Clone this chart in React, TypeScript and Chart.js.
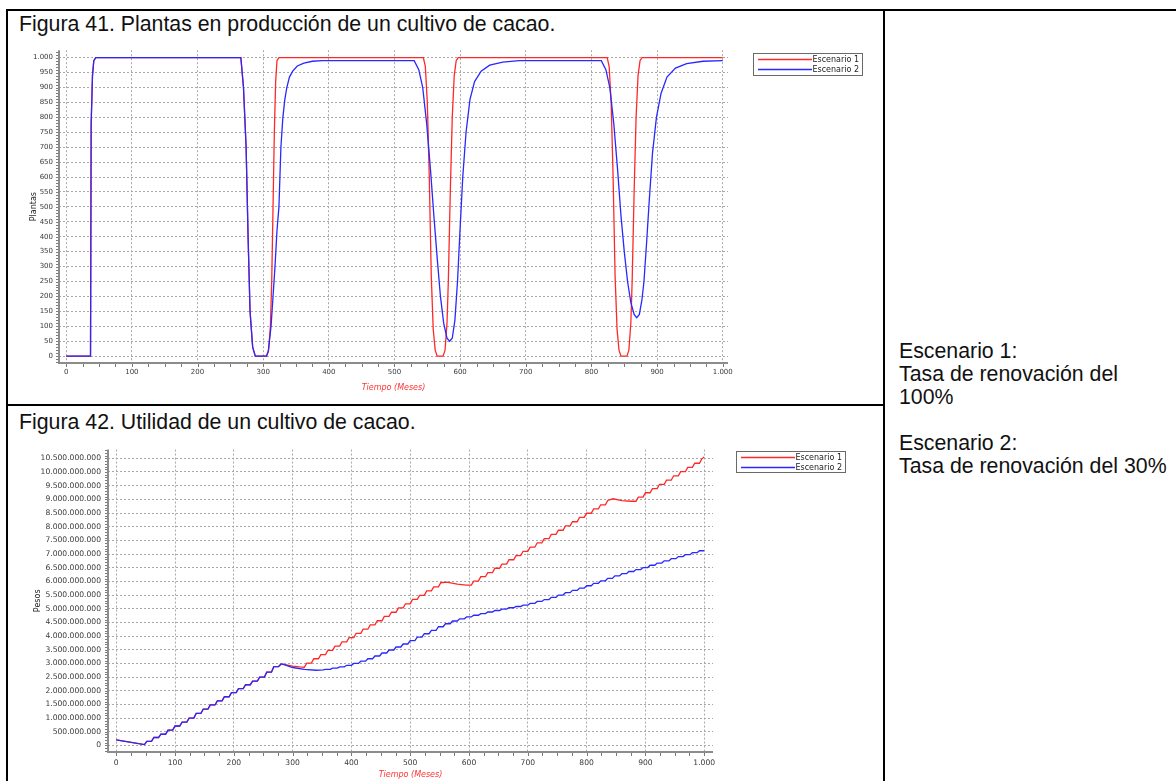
import React, { useEffect, useRef } from 'react';
import { Chart, registerables } from 'chart.js';

Chart.register(...registerables);

// ---------- Data ----------
const nombresSeries = ['Escenario 1', 'Escenario 2'];
const coloresSeries = ['rgb(255,40,40)', 'rgb(40,40,255)'];

// Figura 41: Plantas en producción
const tiempoPlantasE1 = [0, 37, 38, 40, 42, 45, 266, 270, 274, 277, 280, 284, 288, 305, 308, 311, 313, 315, 317, 319, 321, 324, 544, 547, 550, 553, 556, 559, 562, 565, 574, 577, 580, 582, 585, 588, 591, 594, 597, 824, 827, 830, 833, 836, 839, 842, 845, 854, 857, 860, 862, 865, 868, 871, 874, 877, 1000];
const plantasE1 = [0, 0, 780, 940, 990, 1000, 1000, 900, 700, 400, 150, 30, 0, 0, 15, 100, 250, 500, 750, 920, 990, 1000, 1000, 970, 850, 600, 270, 90, 20, 0, 0, 20, 110, 250, 550, 800, 940, 990, 1000, 1000, 970, 850, 600, 270, 90, 20, 0, 0, 20, 110, 250, 550, 800, 940, 990, 1000, 1000];

const tiempoPlantasE2 = [0, 37, 38, 40, 42, 45, 266, 270, 274, 277, 280, 284, 288, 305, 308, 312, 315, 318, 321, 324, 327, 330, 333, 336, 340, 345, 352, 362, 375, 390, 530, 537, 543, 549, 555, 560, 565, 570, 575, 580, 584, 588, 592, 596, 600, 604, 609, 615, 622, 632, 645, 665, 690, 815, 822, 828, 834, 840, 845, 850, 855, 860, 865, 869, 873, 877, 880, 884, 888, 893, 899, 906, 915, 928, 945, 970, 1000];
const plantasE2 = [0, 0, 780, 940, 990, 1000, 1000, 900, 700, 400, 150, 30, 0, 0, 20, 100, 200, 300, 420, 500, 700, 800, 860, 900, 935, 955, 972, 982, 988, 990, 990, 960, 900, 780, 620, 470, 330, 200, 110, 60, 50, 60, 120, 250, 430, 600, 750, 860, 920, 955, 975, 985, 990, 990, 960, 900, 780, 620, 470, 350, 250, 180, 140, 129, 140, 190, 250, 380, 520, 680, 800, 880, 935, 965, 980, 988, 990];

// Figura 42: Utilidad, [mes, millones de pesos]
const utilidadComun: [number, number][] = [
  [0, 200], [48, 30], [52, 150], [60, 150], [64, 290], [72, 290], [76, 410], [84, 410], [88, 560], [96, 560],
  [100, 710], [108, 710], [112, 850], [120, 850], [124, 1000], [132, 1000], [136, 1170], [144, 1170], [148, 1330], [156, 1330],
  [160, 1480], [168, 1480], [172, 1630], [180, 1630], [184, 1780], [192, 1780], [196, 1930], [204, 1930], [208, 2080], [216, 2080],
  [220, 2220], [228, 2220], [232, 2350], [240, 2350], [244, 2500], [252, 2500], [256, 2680], [264, 2680], [268, 2880], [276, 2880],
  [280, 2970], [283, 2970],
];
const utilidadE1: [number, number][] = [
  [300, 2900], [312, 2870], [320, 2860], [324, 3010], [332, 3010], [336, 3170], [344, 3170], [348, 3320], [356, 3320], [360, 3480],
  [368, 3480], [372, 3630], [380, 3630], [384, 3790], [392, 3790], [396, 3940], [404, 3940], [408, 4100], [416, 4100], [420, 4250],
  [428, 4250], [432, 4410], [440, 4410], [444, 4560], [452, 4560], [456, 4720], [464, 4720], [468, 4870], [476, 4870], [480, 5030],
  [488, 5030], [492, 5180], [500, 5180], [504, 5340], [512, 5340], [516, 5490], [524, 5490], [528, 5650], [536, 5650], [540, 5800],
  [548, 5800], [552, 5950], [562, 5975], [580, 5900], [595, 5860], [604, 5860], [608, 6010], [616, 6010], [620, 6170], [628, 6170],
  [632, 6320], [640, 6320], [644, 6480], [652, 6480], [656, 6630], [664, 6630], [668, 6790], [676, 6790], [680, 6940], [688, 6940],
  [692, 7100], [700, 7100], [704, 7250], [712, 7250], [716, 7410], [724, 7410], [728, 7560], [736, 7560], [740, 7720], [748, 7720],
  [752, 7870], [760, 7870], [764, 8030], [772, 8030], [776, 8180], [784, 8180], [788, 8340], [796, 8340], [800, 8490], [808, 8490],
  [812, 8650], [820, 8650], [824, 8800], [832, 8800], [836, 8960], [845, 9020], [860, 8950], [875, 8930], [884, 8930], [888, 9080],
  [896, 9080], [900, 9240], [908, 9240], [912, 9390], [920, 9390], [924, 9550], [932, 9550], [936, 9700], [944, 9700], [948, 9860],
  [956, 9860], [960, 10010], [968, 10010], [972, 10170], [980, 10170], [984, 10320], [992, 10320], [996, 10480], [1000, 10550],
];
const utilidadE2: [number, number][] = [
  [300, 2850], [320, 2780], [340, 2750], [352, 2760], [356, 2780], [364, 2780], [368, 2825], [376, 2825], [380, 2875], [388, 2875],
  [392, 2930], [400, 2930], [404, 3000], [412, 3000], [416, 3080], [424, 3080], [428, 3170], [436, 3170], [440, 3270], [448, 3270],
  [452, 3380], [460, 3380], [464, 3490], [472, 3490], [476, 3600], [484, 3600], [488, 3710], [496, 3710], [500, 3835], [508, 3835],
  [512, 3960], [520, 3960], [524, 4085], [532, 4085], [536, 4210], [544, 4210], [548, 4340], [556, 4340], [560, 4450], [568, 4450],
  [572, 4550], [580, 4550], [584, 4630], [592, 4630], [596, 4700], [604, 4700], [608, 4760], [616, 4760], [620, 4820], [628, 4820],
  [632, 4880], [640, 4880], [644, 4935], [652, 4935], [656, 4985], [664, 4985], [668, 5035], [676, 5035], [680, 5080], [688, 5080],
  [692, 5130], [700, 5130], [704, 5195], [712, 5195], [716, 5265], [724, 5265], [728, 5335], [736, 5335], [740, 5415], [748, 5415],
  [752, 5500], [760, 5500], [764, 5585], [772, 5585], [776, 5670], [784, 5670], [788, 5750], [796, 5750], [800, 5840], [808, 5840],
  [812, 5930], [820, 5930], [824, 6020], [832, 6020], [836, 6110], [844, 6110], [848, 6200], [856, 6200], [860, 6280], [868, 6280],
  [872, 6360], [880, 6360], [884, 6430], [892, 6430], [896, 6505], [904, 6505], [908, 6590], [916, 6590], [920, 6670], [928, 6670],
  [932, 6750], [940, 6750], [944, 6830], [952, 6830], [956, 6905], [964, 6905], [968, 6975], [976, 6975], [980, 7050], [988, 7050],
  [992, 7120], [1000, 7120],
];

// Ticks
const ticksTiempo = [0, 100, 200, 300, 400, 500, 600, 700, 800, 900, 1000];
const ticksPlantas = [0, 50, 100, 150, 200, 250, 300, 350, 400, 450, 500, 550, 600, 650, 700, 750, 800, 850, 900, 950, 1000];
const ticksPesosMM = [0, 500, 1000, 1500, 2000, 2500, 3000, 3500, 4000, 4500, 5000, 5500, 6000, 6500, 7000, 7500, 8000, 8500, 9000, 9500, 10000, 10500];

// ---------- Helpers ----------
const fmt = (v: number) => Math.round(v).toString().replace(/\B(?=(\d{3})+(?!\d))/g, '.');
const pts = (xs: number[], ys: number[]) => xs.map((x, i) => ({ x, y: ys[i] }));
const pairPts = (p: [number, number][], k: number) => p.map(([x, y]) => ({ x, y: y * k }));

function decor(minorX: number, minorY: number, leg: { x: number; y: number; w: number; h: number }) {
  return {
    id: 'decor',
    afterDatasetsDraw(chart: any) {
      const { ctx, chartArea } = chart;
      const { left, right, top, bottom } = chartArea;
      const xs = chart.scales.x;
      const ys = chart.scales.y;
      ctx.save();
      ctx.strokeStyle = '#7a7a7a';
      ctx.lineWidth = 1;
      for (let v = Math.ceil(xs.min / minorX) * minorX; v <= xs.max; v += minorX) {
        const p = Math.round(xs.getPixelForValue(v)) + 0.5;
        ctx.beginPath();
        ctx.moveTo(p, bottom);
        ctx.lineTo(p, bottom + 4);
        ctx.stroke();
      }
      for (let v = Math.ceil(ys.min / minorY) * minorY; v <= ys.max; v += minorY) {
        const p = Math.round(ys.getPixelForValue(v)) + 0.5;
        ctx.beginPath();
        ctx.moveTo(left - 3, p);
        ctx.lineTo(left, p);
        ctx.stroke();
      }
      ctx.strokeStyle = '#8c8c8c';
      ctx.lineWidth = 2;
      ctx.beginPath();
      ctx.moveTo(left, top);
      ctx.lineTo(left, bottom);
      ctx.lineTo(right, bottom);
      ctx.stroke();
      // legend
      ctx.fillStyle = '#ffffff';
      ctx.fillRect(leg.x, leg.y, leg.w, leg.h);
      ctx.strokeStyle = '#6a6a6a';
      ctx.lineWidth = 1;
      ctx.strokeRect(leg.x + 0.5, leg.y + 0.5, leg.w, leg.h);
      ctx.font = '8px "DejaVu Sans"';
      ctx.textAlign = 'right';
      ctx.textBaseline = 'middle';
      nombresSeries.forEach((n, i) => {
        const yy = leg.y + 6.5 + i * 10;
        ctx.strokeStyle = coloresSeries[i];
        ctx.lineWidth = 1.5;
        ctx.beginPath();
        ctx.moveTo(leg.x + 5, yy);
        ctx.lineTo(leg.x + 59, yy);
        ctx.stroke();
        ctx.fillStyle = '#222';
        ctx.fillText(n, leg.x + leg.w - 3, yy + 0.5);
      });
      ctx.restore();
    },
  };
}

type Cfg = {
  datasets: any[];
  xMin: number; xMax: number; yMin: number; yMax: number;
  yTicks: number[];
  yTitle: string;
  yWidth: number; yTitlePad: number; yTickPad: number;
  xHeight: number; xTitlePad: number; xTickPad: number;
  padTop: number; padRight: number;
  minorX: number; minorY: number;
  tickSize: number;
  legend: { x: number; y: number; w: number; h: number };
};

function build(canvas: HTMLCanvasElement, c: Cfg) {
  const tickFont = { family: 'DejaVu Sans', size: c.tickSize };
  return new Chart(canvas, {
    type: 'line',
    data: { datasets: c.datasets },
    plugins: [decor(c.minorX, c.minorY, c.legend)],
    options: {
      animation: false,
      responsive: false,
      layout: { padding: { left: 0, right: c.padRight, top: c.padTop, bottom: 0 } },
      plugins: { legend: { display: false }, tooltip: { enabled: false } },
      elements: { point: { radius: 0 }, line: { borderWidth: 1.3, tension: 0 } },
      scales: {
        x: {
          type: 'linear',
          min: c.xMin,
          max: c.xMax,
          afterBuildTicks: (s: any) => { s.ticks = ticksTiempo.map((v) => ({ value: v })); },
          afterFit: (s: any) => { s.height = c.xHeight; },
          grid: { color: '#a8a8a8', drawTicks: false, lineWidth: 1 },
          border: { display: false, dash: [2, 2] },
          ticks: { padding: c.xTickPad, font: tickFont, color: '#3a3a3a', maxRotation: 0, autoSkip: false, callback: (v: any) => fmt(Number(v)) },
          title: { display: true, text: 'Tiempo (Meses)', color: 'rgb(255,50,50)', font: { family: 'DejaVu Sans', size: 8, style: 'italic' }, padding: { top: 0, bottom: c.xTitlePad } },
        },
        y: {
          type: 'linear',
          min: c.yMin,
          max: c.yMax,
          afterBuildTicks: (s: any) => { s.ticks = c.yTicks.map((v) => ({ value: v })); },
          afterFit: (s: any) => { s.width = c.yWidth; },
          grid: { color: '#a8a8a8', drawTicks: false, lineWidth: 1 },
          border: { display: false, dash: [2, 2] },
          ticks: { padding: c.yTickPad, font: tickFont, color: '#3a3a3a', autoSkip: false, callback: (v: any) => fmt(Number(v)) },
          title: { display: true, text: c.yTitle, color: '#222', font: { family: 'DejaVu Sans', size: 8 }, padding: { top: c.yTitlePad, bottom: 0 } },
        },
      },
    } as any,
  });
}

function ds(i: number, data: any[], order: number) {
  return { label: nombresSeries[i], data, borderColor: coloresSeries[i], backgroundColor: coloresSeries[i], borderWidth: 1.3, pointRadius: 0, fill: false, order };
}

export default function App() {
  const ref1 = useRef<HTMLCanvasElement>(null);
  const ref2 = useRef<HTMLCanvasElement>(null);

  useEffect(() => {
    document.body.style.margin = '0';
    const c1 = build(ref1.current!, {
      datasets: [ds(0, pts(tiempoPlantasE1, plantasE1), 2), ds(1, pts(tiempoPlantasE2, plantasE2), 1)],
      xMin: -11, xMax: 1008, yMin: -23, yMax: 1025,
      yTicks: ticksPlantas, yTitle: 'Plantas',
      yWidth: 49, yTitlePad: 19, yTickPad: 6,
      xHeight: 39, xTitlePad: 9, xTickPad: 5,
      padTop: 7, padRight: 152,
      minorX: 25, minorY: 10, tickSize: 7,
      legend: { x: 743, y: 13, w: 109, h: 22 },
    });
    const utilE1 = pairPts(utilidadComun, 1e6).concat(pairPts(utilidadE1, 1e6));
    const utilE2 = pairPts(utilidadComun, 1e6).concat(pairPts(utilidadE2, 1e6));
    const c2 = build(ref2.current!, {
      datasets: [ds(0, utilE1, 2), ds(1, utilE2, 1)],
      xMin: -14, xMax: 1015, yMin: -240e6, yMax: 10.82e9,
      yTicks: ticksPesosMM.map((v) => v * 1e6), yTitle: 'Pesos',
      yWidth: 98, yTitlePad: 23, yTickPad: 7,
      xHeight: 29, xTitlePad: 1, xTickPad: 6,
      padTop: 7, padRight: 167,
      minorX: 25, minorY: 100e6, tickSize: 7.6,
      legend: { x: 726, y: 13, w: 109, h: 21 },
    });
    return () => { c1.destroy(); c2.destroy(); };
  }, []);

  const line = (style: React.CSSProperties) => <div style={{ position: 'absolute', background: '#000', ...style }} />;
  const txt: React.CSSProperties = { position: 'absolute', fontFamily: '"Liberation Sans", Arial, sans-serif', fontSize: '21.3px', color: '#111', whiteSpace: 'nowrap' };

  return (
    <div style={{ position: 'fixed', left: 0, top: 0, width: 1176, height: 781, overflow: 'hidden', background: '#fff' }}>
      {line({ left: 6, top: 9, width: 1170, height: 2 })}
      {line({ left: 6, top: 9, width: 2, height: 772 })}
      {line({ left: 883, top: 9, width: 2, height: 772 })}
      {line({ left: 6, top: 404, width: 879, height: 2 })}
      <div style={{ ...txt, left: 19, top: 12, lineHeight: '24px' }}>Figura 41. Plantas en producción de un cultivo de cacao.</div>
      <div style={{ ...txt, left: 19, top: 410, lineHeight: '24px' }}>Figura 42. Utilidad de un cultivo de cacao.</div>
      <div style={{ ...txt, left: 899, top: 340, lineHeight: '23px' }}>
        Escenario 1:<br />Tasa de renovación del<br />100%<br /><br />Escenario 2:<br />Tasa de renovación del 30%
      </div>
      <canvas ref={ref1} width={870} height={362} style={{ position: 'absolute', left: 10, top: 40, width: 870, height: 362 }} />
      <canvas ref={ref2} width={870} height={343} style={{ position: 'absolute', left: 10, top: 438, width: 870, height: 343 }} />
    </div>
  );
}
